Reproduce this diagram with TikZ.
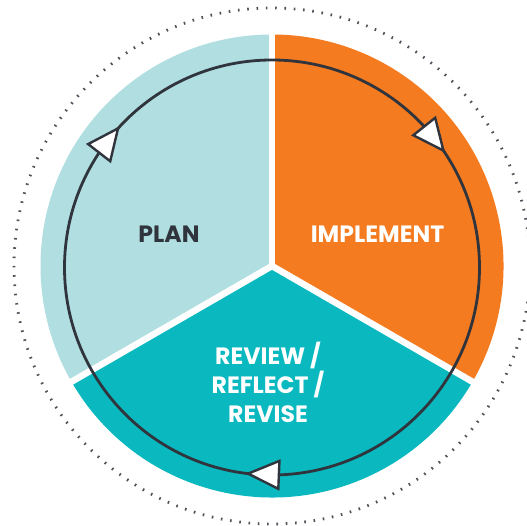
\documentclass[tikz,border=0pt]{standalone}
\usepackage{fontspec}
\setmainfont{Poppins}
\usetikzlibrary{calc}
\definecolor{planc}{HTML}{B1DFE1}
\definecolor{implc}{HTML}{F47B20}
\definecolor{revc}{HTML}{0AB9BF}
\definecolor{darkc}{HTML}{30343D}
\tikzset{
  sector/.style={draw=none},
  gapline/.style={white,line width=6.5pt},
  dotring/.style={draw=darkc!85,line width=2.8pt,dash pattern=on 1.6pt off 7.716pt},
  cycleline/.style={draw=darkc,line width=2.8pt},
  arrowtri/.style={draw=darkc,fill=white,line width=2.4pt,line join=miter},
  lbl/.style={font=\fontsize{23.6}{28.7}\selectfont\bfseries,align=center,inner sep=0pt}
}
\begin{document}
\begin{tikzpicture}[x=1pt,y=1pt]
\useasboundingbox (0,0) rectangle (527,526);
\fill[white] (0,0) rectangle (527,526);
\coordinate (O) at (272,260);
\coordinate (C) at (272,258.5);
% sectors
\fill[planc] (O) -- ++(90:231.5) arc[start angle=90,end angle=210,radius=231.5] -- cycle;
\fill[implc] (O) -- ++(-30:231.5) arc[start angle=-30,end angle=90,radius=231.5] -- cycle;
\fill[revc] (O) -- ++(210:231.5) arc[start angle=210,end angle=330,radius=231.5] -- cycle;
% gaps
\draw[gapline] (O) -- ++(90:240);
\draw[gapline] (O) -- ++(210:240);
\draw[gapline] (O) -- ++(330:240);
% dotted ring
\draw[dotring] (O) circle[radius=258];
% cycle
\draw[cycleline] (C) circle[radius=207.5];
% arrowheads
\foreach \t/\b [count=\i] in {34.3/42.8, 137.9/146.4, 263.4/271.9}{
  \coordinate (T\i) at ($(C)+(\t:207.5)$);
  \coordinate (B\i) at ($(C)+(\b:207.5)$);
  \draw[arrowtri] (T\i) -- ($(B\i)!14pt!90:(T\i)$) -- ($(B\i)!14pt!-90:(T\i)$) -- cycle;
}
% labels
\node[lbl,text=darkc] (plan) at (169,291.4) {PLAN};
\node[lbl,text=white] (impl) at (377.5,291.4) {IMPLEMENT};
\node[lbl,text=white] (rev) at (268,143.5) {REVIEW /\\REFLECT /\\REVISE};
\end{tikzpicture}
\end{document}
